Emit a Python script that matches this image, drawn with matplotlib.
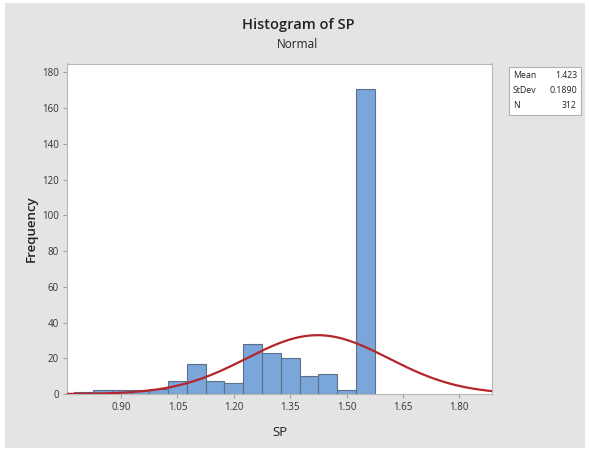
import numpy as np
import matplotlib
matplotlib.use("Agg")
import matplotlib.pyplot as plt
from matplotlib.patches import Rectangle

# Data
bin_centers = [0.80, 0.85, 0.90, 0.95, 1.00, 1.05, 1.10, 1.15, 1.20, 1.25,
               1.30, 1.35, 1.40, 1.45, 1.50, 1.55]
frequencies = [1, 2, 2, 2, 3, 7, 17, 7, 6, 28, 23, 20, 10, 11, 2, 171]
bin_width = 0.05
mean_val = 1.423
std_val = 0.1890
n_val = 312
x_ticks = [0.90, 1.05, 1.20, 1.35, 1.50, 1.65, 1.80]
y_ticks = [0, 20, 40, 60, 80, 100, 120, 140, 160, 180]

plt.rcParams['font.family'] = ['Open Sans', 'DejaVu Sans']

W, H = 589, 450
fig = plt.figure(figsize=(W/100, H/100), dpi=100, facecolor='white')
fig.patches.append(Rectangle((5/W, 1 - 448/H), 580/W, 445/H, transform=fig.transFigure,
                             facecolor='#e4e4e4', edgecolor='none', zorder=-10))

ax = fig.add_axes([67/W, 1 - 394/H, (492-67)/W, (394-63.5)/H])
ax.set_facecolor('white')

ax.bar(bin_centers, frequencies, width=bin_width, color='#7aa6da',
       edgecolor='#5a6f88', linewidth=0.8, zorder=2)

xs = np.linspace(0.756, 1.887, 400)
ys = n_val * bin_width / (std_val * np.sqrt(2*np.pi)) * np.exp(-0.5*((xs-mean_val)/std_val)**2)
ax.plot(xs, ys, color='#b5262b', linewidth=1.6, zorder=3)

ax.set_xlim(0.756, 1.887)
ax.set_ylim(0, 185)
ax.set_xticks(x_ticks)
ax.set_xticklabels([f"{t:.2f}" for t in x_ticks])
ax.set_yticks(y_ticks)
ax.tick_params(axis='both', labelsize=7, length=3, color='#a0a0a0', labelcolor='#333333', pad=3)
for s in ax.spines.values():
    s.set_color('#b8b8b8')
    s.set_linewidth(0.8)

ax.set_xlabel('SP', fontsize=9.5, color='#222222', labelpad=9)
ax.set_ylabel('Frequency', fontsize=9.5, color='#222222', labelpad=3, fontweight='semibold')

fig.text(298/W, 1 - 25/H, 'Histogram of SP', ha='center', va='center', fontsize=10.5,
         color='#222222', fontweight='semibold')
fig.text(298/W, 1 - 44/H, 'Normal', ha='center', va='center', fontsize=8.5, color='#222222')

# stats box
fig.patches.append(Rectangle((509/W, 1 - 115/H), 72/W, 48.5/H, transform=fig.transFigure,
                             facecolor='white', edgecolor='#b0b0b0', linewidth=0.8, zorder=5))
labels = ['Mean', 'StDev', 'N']
values = [f"{mean_val:.3f}", f"{std_val:.4f}", f"{n_val}"]
for i, (lab, val) in enumerate(zip(labels, values)):
    yy = 1 - (76 + i*14.5)/H
    fig.text(513/W, yy, lab, ha='left', va='center', fontsize=6.3, color='#222222', zorder=6)
    fig.text(577/W, yy, val, ha='right', va='center', fontsize=6.3, color='#222222', zorder=6)

fig.savefig('out.png', dpi=100, facecolor=fig.get_facecolor())
